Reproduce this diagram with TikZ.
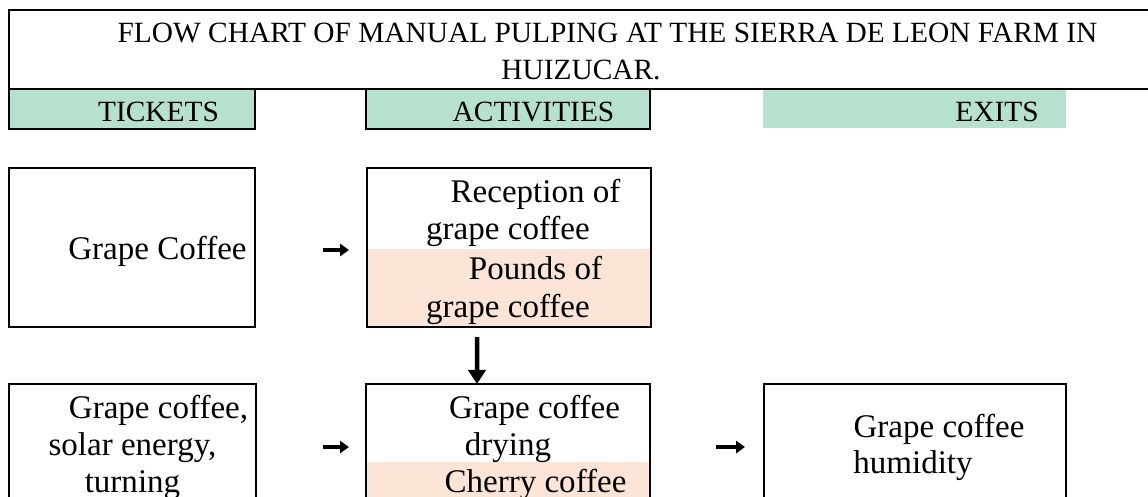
\documentclass[tikz,border=0pt]{standalone}
\usepackage{fontspec}
\setmainfont{Liberation Serif}
\usetikzlibrary{arrows.meta}
\definecolor{headgreen}{HTML}{B5E1CE}
\definecolor{cellpink}{HTML}{FCE4D6}

\begin{document}
\begin{tikzpicture}[x=0.025cm, y=-0.025cm]
    \tikzset{box/.style={draw, line width=1.4pt, inner sep=0pt, outer sep=0pt}}
    \tikzset{head/.style={fill=headgreen, inner sep=0pt, outer sep=0pt, minimum height=1cm}}
    \tikzset{word/.style={anchor=base, inner sep=0pt, font=\fontsize{23.5}{27}\selectfont}}
    \tikzset{headword/.style={anchor=base, inner sep=0pt, font=\fontsize{20.9}{24}\selectfont}}
    \tikzset{flow/.style={line width=3.4pt, -{Triangle[length=0.22cm, width=0.3cm]}}}
    \tikzset{drop/.style={line width=3.2pt, -{Triangle[length=0.35cm, width=0.43cm]}}}
    \useasboundingbox (0,0) rectangle (1148,497);

    \node[head, box, minimum width=6.15cm] (tickets) at (132,109) {};
    \node[head, box, minimum width=7.1cm] (activities) at (508,109) {};
    \node[head, minimum width=7.575cm, minimum height=0.975cm] (exits) at (914.5,108.5) {};
    \node[box, minimum width=29.025cm, minimum height=1.975cm] (title) at (589.5,49.5) {};

    \node[headword] (titleA) at (607.5,43) {FLOW CHART OF MANUAL PULPING AT THE SIERRA DE LEON FARM IN};
    \node[headword] (titleB) at (581,80) {HUIZUCAR.};
    \node[headword] (ticketsT) at (158.5,122) {TICKETS};
    \node[headword] (activitiesT) at (533.5,122) {ACTIVITIES};
    \node[headword] (exitsT) at (997,122) {EXITS};

    \fill[cellpink] (367,249) rectangle (651,327);
    \fill[cellpink] (366,462) rectangle (650,510);

    \node[box, minimum width=6.15cm, minimum height=3.975cm] (grape) at (132,247.5) {};
    \node[box, minimum width=7.1cm, minimum height=3.975cm] (recep) at (509,247.5) {};
    \node[box, minimum width=6.175cm, minimum height=3.15cm] (input) at (132.5,447) {};
    \node[box, minimum width=7.1cm, minimum height=3.15cm] (dry) at (508,447) {};
    \node[box, minimum width=7.55cm, minimum height=3.15cm] (humid) at (915,447) {};

    \node[word] (grapeT) at (157.5,260) {Grape Coffee};
    \node[word] (recepA) at (535.5,203) {Reception of};
    \node[word] (recepB) at (508,240) {grape coffee};
    \node[word] (recepC) at (535.5,280) {Pounds of};
    \node[word] (recepD) at (508,317) {grape coffee};

    \node[word] (inputA) at (158.5,418) {Grape coffee,};
    \node[word] (inputB) at (132.5,455) {solar energy,};
    \node[word] (inputC) at (132.5,492) {turning};
    \node[word] (dryA) at (534.5,418) {Grape coffee};
    \node[word] (dryB) at (508,455) {drying};
    \node[word] (dryC) at (535.5,492) {Cherry coffee};
    \node[word] (humidA) at (939,437) {Grape coffee};
    \node[word] (humidB) at (913,473) {humidity};

    \draw[flow, shorten <=1.7cm, shorten >=0.45cm] ([yshift=-0.0625cm]grape.east) -- ([yshift=-0.0625cm]recep.west);
    \draw[flow, shorten <=1.675cm, shorten >=0.425cm] (input) -- (dry);
    \draw[flow, shorten <=1.65cm, shorten >=0.475cm] (dry) -- (humid);
    \draw[drop, shorten <=0.25cm] ([xshift=-0.8cm]recep.south) -- ([xshift=-0.775cm]dry.north);
\end{tikzpicture}
\end{document}
